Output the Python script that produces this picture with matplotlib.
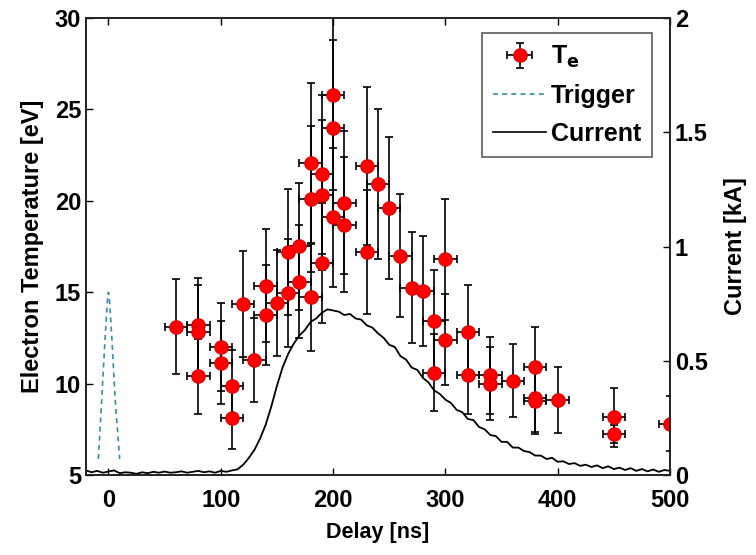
import numpy as np
import matplotlib
matplotlib.use("Agg")
import matplotlib.pyplot as plt
from matplotlib.lines import Line2D

plt.rcParams['font.family'] = ['Liberation Sans', 'DejaVu Sans']
plt.rcParams['font.weight'] = 'bold'
plt.rcParams['mathtext.default'] = 'regular'

# ---- Electron temperature data ----
delay = [60, 80, 80, 80, 100, 100, 110, 110, 120, 130, 140, 140, 150, 160, 160,
         170, 170, 180, 180, 180, 190, 190, 190, 200, 200, 200, 210, 210, 230, 230,
         240, 250, 260, 270, 280, 290, 290, 300, 300, 320, 320, 340, 340, 360,
         380, 380, 380, 400, 450, 450, 500]
te = [13.1, 13.2, 12.85, 10.4, 12.0, 11.15, 9.85, 8.1, 14.35, 11.3, 15.35, 13.75,
      14.4, 17.2, 14.95, 17.5, 15.57, 22.05, 20.1, 14.75, 21.45, 20.3, 16.6, 25.8,
      24.0, 19.1, 19.9, 18.7, 21.9, 17.2, 20.9, 19.6, 17.0, 15.25, 15.05, 13.45,
      10.6, 16.8, 12.4, 12.85, 10.45, 10.45, 10.0, 10.15, 10.9, 9.2, 9.05, 9.1,
      8.15, 7.25, 7.8]
te_err = [2.6, 2.6, 2.55, 2.05, 2.4, 2.25, 2.0, 1.7, 2.9, 2.3, 3.1, 2.75, 2.9,
          3.45, 2.95, 3.5, 3.1, 4.4, 4.0, 2.95, 4.35, 4.1, 3.3, 5.2, 4.8, 3.8, 3.9,
          3.7, 4.3, 3.4, 4.1, 3.9, 3.35, 3.05, 3.0, 2.75, 2.1, 3.3, 2.5, 2.55, 2.1,
          2.1, 2.0, 2.0, 2.2, 1.85, 1.8, 1.8, 1.6, 0.5, 1.5]
delay_err = [10] * len(delay)

# ---- Current trace (kA), sampled every 5 ns from -20 to 500 ns ----
current_t = list(range(-20, 501, 5))
current_ka = [0.02, 0.012, 0.018, 0.01, 0.015, 0.02, 0.008, 0.012, 0.01, 0.005,
              0.012, 0.008, 0.014, 0.01, 0.015, 0.01, 0.012, 0.016, 0.01, 0.014,
              0.018, 0.012, 0.016, 0.01, 0.018, 0.014, 0.02, 0.025, 0.045, 0.075,
              0.11, 0.16, 0.22, 0.30, 0.39, 0.47, 0.53, 0.575, 0.61, 0.635,
              0.67, 0.685, 0.71, 0.725, 0.72, 0.715, 0.70, 0.705, 0.685, 0.68,
              0.655, 0.645, 0.62, 0.6, 0.57, 0.56, 0.52, 0.505, 0.47, 0.46,
              0.425, 0.405, 0.37, 0.355, 0.33, 0.315, 0.285, 0.275, 0.245, 0.24,
              0.21, 0.2, 0.175, 0.17, 0.145, 0.145, 0.12, 0.12, 0.105, 0.1,
              0.085, 0.085, 0.07, 0.075, 0.058, 0.06, 0.048, 0.052, 0.04, 0.045,
              0.035, 0.042, 0.03, 0.038, 0.026, 0.032, 0.022, 0.03, 0.018, 0.026,
              0.016, 0.024, 0.014, 0.022, 0.018]

# ---- Trigger pulse (kA scale) ----
trigger_t = [-9, -6, -3, -1, 0, 1, 3, 6, 10]
trigger_v = [0.07, 0.33, 0.6, 0.76, 0.8, 0.76, 0.6, 0.33, 0.07]

x_ticks = [0, 100, 200, 300, 400, 500]
y_ticks = [5, 10, 15, 20, 25, 30]
y2_ticks = [0, 0.5, 1, 1.5, 2]
y2_labels = ['0', '0.5', '1', '1.5', '2']

fig = plt.figure(figsize=(7.56, 5.55), dpi=100)
ax = fig.add_axes([86/756, 1-475/555, (670-86)/756, (475-18)/555])
ax2 = ax.twinx()

trig_color = '#3d8aa6'
ax2.plot(trigger_t, trigger_v, linestyle=(0, (3, 2.5)), color=trig_color, lw=1.2)
ax2.plot(current_t, current_ka, color='black', lw=1.3)

ax.set_zorder(ax2.get_zorder() + 1)
ax.patch.set_visible(False)

eb = ax.errorbar(delay, te, yerr=te_err, xerr=delay_err, fmt='o',
                 color='red', markerfacecolor='#ff0000', markeredgecolor='#e00000',
                 markersize=9.5, ecolor='black', elinewidth=1.2, capsize=3,
                 capthick=1.2)

ax.set_xlim(-20, 500)
ax.set_ylim(5, 30)
ax2.set_ylim(0, 2)
ax.set_xticks(x_ticks)
ax.set_yticks(y_ticks)
ax2.set_yticks(y2_ticks)
ax2.set_yticklabels(y2_labels)

for a in (ax, ax2):
    a.tick_params(direction='in', length=5, width=1, labelsize=17)
    for s in a.spines.values():
        s.set_linewidth(1.2)
        s.set_color('#222222')
ax.tick_params(top=True)
ax.tick_params(axis='x', pad=10)

ax.set_xlabel('Delay [ns]', fontsize=15.5, fontweight='bold', labelpad=7)
ax.set_ylabel('Electron Temperature [eV]', fontsize=17, fontweight='bold', labelpad=8)
ax2.set_ylabel('Current [kA]', fontsize=17, fontweight='bold', labelpad=12)

handles = [eb,
           Line2D([0], [0], linestyle=(0, (3, 2.5)), color=trig_color, lw=1.2),
           Line2D([0], [0], color='black', lw=1.2)]
labels = ['T$_\\mathbf{e}$', 'Trigger', 'Current']
leg = ax.legend(handles, labels, loc='upper right', bbox_to_anchor=(0.97, 0.968),
                prop={'weight': 'bold', 'size': 18},
                frameon=True, fancybox=False, edgecolor='#333333',
                handlelength=2.1, handletextpad=0.2, borderpad=0.45,
                labelspacing=0.55, borderaxespad=0.0)
leg.get_frame().set_linewidth(1.2)

fig.savefig('out.png', dpi=100)
